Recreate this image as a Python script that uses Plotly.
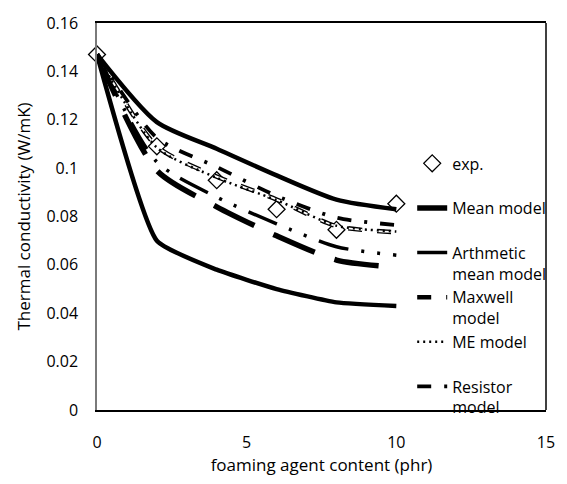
import plotly.graph_objects as go

# foaming agent content (phr)
x_phr = [0, 2, 4, 6, 8, 10]

# thermal conductivity (W/mK)
exp_k = [0.147, 0.109, 0.095, 0.083, 0.0745, 0.0853]
mean_k = [0.147, 0.099, 0.084, 0.072, 0.062, 0.059]
arith_k = [0.147, 0.1025, 0.088, 0.077, 0.0675, 0.064]
maxwell_k = [0.147, 0.109, 0.0965, 0.087, 0.076, 0.0735]
me_k = [0.147, 0.1085, 0.096, 0.0868, 0.0762, 0.0738]
resistor_k = [0.147, 0.1125, 0.1005, 0.0885, 0.0795, 0.0765]
upper_k = [0.147, 0.119, 0.108, 0.097, 0.087, 0.083]
lower_k = [0.147, 0.070, 0.058, 0.050, 0.0445, 0.043]

x_ticks = [0, 5, 10, 15]
y_ticks = [0, 0.02, 0.04, 0.06, 0.08, 0.10, 0.12, 0.14, 0.16]
y_tick_text = ["0", "0.02", "0.04", "0.06", "0.08", "0.1", "0.12", "0.14", "0.16"]

FONT = "Open Sans"

fig = go.Figure()

fig.add_trace(go.Scatter(
    x=x_phr, y=exp_k, mode="markers", name="exp.<br> ", cliponaxis=False,
    marker=dict(symbol="diamond", size=13, color="white",
                line=dict(color="black", width=1.3)),
))


def model_line(y, name, width, dash, color="black", show=True, smooth=0.7):
    fig.add_trace(go.Scatter(
        x=x_phr, y=y, mode="lines", name=name, showlegend=show,
        line=dict(color=color, width=width, dash=dash,
                  shape="spline", smoothing=smooth),
    ))


model_line(mean_k, "Mean model<br> ", 5.5, "45px,21px")
model_line(arith_k, "Arthmetic<br>mean model", 3.5,
           "31px,13px,3px,13px,3px,13px")
model_line(maxwell_k, "Maxwell<br>model", 4.5, "14px,15px")
# white core turns the Maxwell dashes into hollow outlines
model_line(maxwell_k, "Maxwell core", 1.8, "14px,15px", color="white", show=False)
model_line(me_k, "ME model<br> ", 2.5, "2px,4px")
model_line(resistor_k, "Resistor<br>model", 3.8, "14px,13px,3px,13px")
model_line(upper_k, "upper", 4.5, "solid", show=False)
model_line(lower_k, "lower", 4.5, "solid", show=False, smooth=0.45)

fig.update_layout(
    width=567, height=484,
    margin=dict(l=97, r=13, t=21, b=69),
    paper_bgcolor="white", plot_bgcolor="white",
    font=dict(family=FONT, size=16, color="black"),
    showlegend=True,
    legend=dict(
        x=0.702, y=0.681, xanchor="left", yanchor="top",
        bgcolor="rgba(0,0,0,0)", borderwidth=0, valign="top",
        font=dict(family=FONT, size=16, color="black"),
        tracegroupgap=0,
    ),
    xaxis=dict(
        range=[0, 15], tickmode="array", tickvals=x_ticks,
        showgrid=False, zeroline=False, ticks="",
        showline=True, linecolor="black", linewidth=1.5, mirror=True,
        ticklabelstandoff=17,
        title=dict(text="foaming agent content (phr)", standoff=7,
                   font=dict(family=FONT, size=17)),
    ),
    yaxis=dict(
        range=[0, 0.16], tickmode="array", tickvals=y_ticks,
        ticktext=y_tick_text,
        showgrid=False, zeroline=False, ticks="",
        showline=True, linecolor="#7a7a7a", linewidth=1.5,
        ticklabelstandoff=14,
        title=dict(text="Thermal conductivity (W/mK)", standoff=11,
                   font=dict(family=FONT, size=17)),
    ),
    shapes=[dict(type="line", xref="paper", yref="paper",
                 x0=1, x1=1, y0=0, y1=1,
                 line=dict(color="black", width=1.5))],
)

fig.write_html("out.html")
